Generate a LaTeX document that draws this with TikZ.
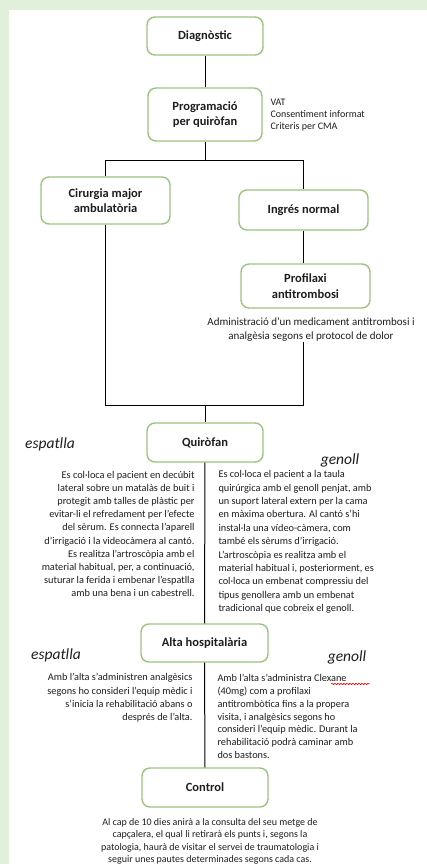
\documentclass[tikz,border=0pt]{standalone}
\usepackage{fontspec}
\setmainfont{Carlito}
\usetikzlibrary{positioning,decorations.pathmorphing}
\definecolor{bggreen}{HTML}{E2EFDA}
\definecolor{boxgreen}{HTML}{9CC47E}
\definecolor{ink}{HTML}{1E1E1E}
\begin{document}
\begin{tikzpicture}[x=1pt, y=-1pt, line width=1pt,
    box/.style = {draw=boxgreen, line width=1.4pt, rounded corners=8pt, fill=white, align=center, text=ink, inner sep=0pt, font=\fontsize{12.5}{15.5}\selectfont\bfseries},
    note/.style = {text=ink, inner sep=0pt, font=\fontsize{10.3}{13.2}\selectfont},
    head/.style = {text=ink, inner sep=0pt, font=\fontsize{15.5}{17}\selectfont\itshape}]
    \fill[bggreen] (0,0) rectangle (427,864);
    \fill[white] (9,10) rectangle (427,864);
    \useasboundingbox (0,0) rectangle (427,864);
    % boxes
    \node[box, minimum width=116pt, minimum height=38pt] (diag) at (205,36) {Diagnòstic};
    \node[box, minimum width=114pt, minimum height=53pt] (prog) at (205,114.5) {Programació\\per quiròfan};
    \node[note, anchor=west, align=left, font=\fontsize{10}{12}\selectfont] (reqs) at (270,115) {VAT\\Consentiment informat\\Criteris per CMA};
    \node[box, minimum width=129pt, minimum height=47pt] (cma) at (105.5,200.5) {Cirurgia major\\ambulatòria};
    \node[box, minimum width=129pt, minimum height=40pt] (ingres) at (303.5,210) {Ingrés normal};
    \node[box, minimum width=129pt, minimum height=44pt] (profi) at (305.5,286) {Profilaxi\\antitrombosi};
    \node[note, align=center, font=\fontsize{11}{14}\selectfont] (admin) at (311,330) {Administració d’un medicament antitrombosi i\\analgèsia segons el protocol de dolor};
    \node[box, minimum width=116pt, minimum height=39pt] (quiro) at (205,442.5) {Quiròfan};
    \node[box, minimum width=127pt, minimum height=38pt] (alta) at (204.5,643) {Alta hospitalària};
    \node[box, minimum width=126pt, minimum height=39pt] (control) at (205,787.5) {Control};
    % quirofan
    \node[head] (esp1) at (50,444) {espatlla};
    \node[note, anchor=east, align=right, font=\fontsize{10.3}{13.1}\selectfont] (esp1txt) at (195,534) {Es col·loca el pacient en decúbit\\lateral sobre un matalàs de buit i\\protegit amb talles de plàstic per\\evitar-li el refredament per l’efecte\\del sèrum. Es connecta l’aparell\\d’irrigació i la videocàmera al cantó.\\Es realitza l’artroscòpia amb el\\material habitual, per, a continuació,\\suturar la ferida i embenar l’espatlla\\amb una bena i un cabestrell.};
    \node[head] (gen1) at (340,460) {genoll};
    \node[note, anchor=west, align=left, font=\fontsize{10.3}{13.4}\selectfont] (gen1txt) at (218,542) {Es col·loca el pacient a la taula\\quirúrgica amb el genoll penjat, amb\\un suport lateral extern per la cama\\en màxima obertura. Al cantó s’hi\\instal·la una vídeo-càmera, com\\també els sèrums d’irrigació.\\L’artroscòpia es realitza amb el\\material habitual i, posteriorment, es\\col·loca un embenat compressiu del\\tipus genollera amb un embenat\\tradicional que cobreix el genoll.};
    % alta
    \node[head] (esp2) at (56,655) {espatlla};
    \node[note, anchor=east, align=right, font=\fontsize{10.3}{13.3}\selectfont] (esp2txt) at (193,698) {Amb l’alta s’administren analgèsics\\segons ho consideri l’equip mèdic i\\s’inicia la rehabilitació abans o\\després de l’alta.};
    \node[head] (gen2) at (347,657) {genoll};
    \node[note, anchor=west, align=left, font=\fontsize{10.3}{12.8}\selectfont] (gen2txt) at (217,716.5) {Amb l’alta s’administra Clexane\\(40mg) com a profilaxi\\antitrombòtica fins a la propera\\visita, i analgèsics segons ho\\consideri l’equip mèdic. Durant la\\rehabilitació podrà caminar amb\\dos bastons.};
    \draw[red, line width=0.6pt, decorate, decoration={snake, segment length=3pt, amplitude=0.7pt}] ([shift={(114,10)}]gen2txt.north west) -- ++(39,0);
    % control
    \node[note, align=center, font=\fontsize{10}{12.3}\selectfont] (ctrltxt) at (210,841.5) {Al cap de 10 dies anirà a la consulta del seu metge de\\capçalera, el qual li retirarà els punts i, segons la\\patologia, haurà de visitar el servei de traumatologia i\\seguir unes pautes determinades segons cada cas.};
    % connectors
    \coordinate (split) at (205,160);
    \coordinate (join) at (205,405);
    \draw (diag) -- (prog);
    \draw (prog) -- (split);
    \draw (split) -| (cma);
    \draw (split) -| (ingres);
    \draw (ingres.south) -- (ingres.south |- profi.north);
    \draw (cma) |- (join);
    \draw (admin.south -| ingres.south) |- (join);
    \draw (join) -- (quiro);
    \draw (quiro) -- (alta);
    \draw (alta) -- (control);
\end{tikzpicture}
\end{document}
